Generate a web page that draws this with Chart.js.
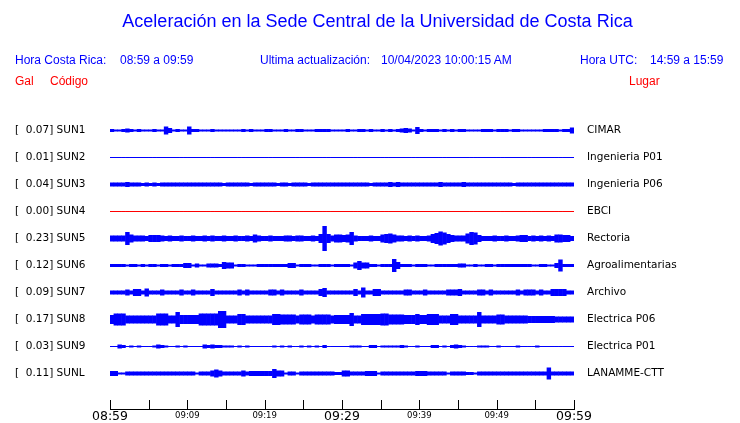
<!DOCTYPE html>
<html>
<head>
<meta charset="utf-8">
<script src="https://cdn.jsdelivr.net/npm/chart.js@4.4.0/dist/chart.umd.min.js"></script>
<style>
    body { margin: 0; background: #fff; overflow: hidden; }
    #wrap { position: relative; width: 740px; height: 423px; }
    #seismoChart { display: block; }
    .info { position: absolute; font-family: "Liberation Sans", Arial, sans-serif; font-size: 12px; line-height: 14px; white-space: pre; }
    .blue { color: #0000ff; }
    .red { color: #ff0000; }
</style>
</head>
<body>
<div id="wrap">
    <canvas id="seismoChart" width="740" height="423"></canvas>
    <div class="info blue" style="left:15px;top:53px">Hora Costa Rica:</div>
    <div class="info blue" style="left:120px;top:53px">08:59 a 09:59</div>
    <div class="info blue" style="left:260px;top:53px">Ultima actualización:</div>
    <div class="info blue" style="left:381px;top:53px">10/04/2023 10:00:15 AM</div>
    <div class="info blue" style="left:580px;top:53px">Hora UTC:</div>
    <div class="info blue" style="left:650px;top:53px">14:59 a 15:59</div>
    <div class="info red" style="left:15px;top:74px">Gal</div>
    <div class="info red" style="left:50px;top:74px">Código</div>
    <div class="info red" style="left:629px;top:74px">Lugar</div>
</div>
<script>
// --- datos de las estaciones
var stations = ['SUN1', 'SUN2', 'SUN3', 'SUN4', 'SUN5', 'SUN6', 'SUN7', 'SUN8', 'SUN9', 'SUNL'];
var places = ['CIMAR', 'Ingenieria P01', 'Ingenieria P06', 'EBCI', 'Rectoria', 'Agroalimentarias',
    'Archivo', 'Electrica P06', 'Electrica P01', 'LANAMME-CTT'];
var gal = [0.07, 0.01, 0.04, 0.00, 0.23, 0.12, 0.09, 0.17, 0.03, 0.11];
var timeLabels = ['08:59', '09:09', '09:19', '09:29', '09:39', '09:49', '09:59'];

// amplitud pico a pico por intervalo de 30 s (120 intervalos, 08:59 - 09:59)
var sun1 = [
    3,2,2,3,4,3,2,3,2,2,  2,3,2,2,8,5,2,3,2,2,
    8,3,3,2,2,2,3,2,2,2,  2,2,2,2,3,2,3,2,2,2,
    3,3,2,2,2,3,2,2,3,3,  2,2,2,3,3,3,3,2,2,2,
    2,3,2,2,3,3,2,3,2,2,  3,2,3,2,3,4,5,4,2,7,
    3,2,3,3,3,2,3,2,3,2,  3,3,2,2,2,2,3,3,3,2,
    3,3,3,2,3,3,2,2,2,2,  2,2,3,3,3,3,2,3,3,6];
var sun2 = [
    1,1,1,1,1,1,1,1,1,1,  1,1,1,1,1,1,1,1,1,1,
    1,1,1,1,1,1,1,1,1,1,  1,1,1,1,1,1,1,1,1,1,
    1,1,1,1,1,1,1,1,1,1,  1,1,1,1,1,1,1,1,1,1,
    1,1,1,1,1,1,1,1,1,1,  1,1,1,1,1,1,1,1,1,1,
    1,1,1,1,1,1,1,1,1,1,  1,1,1,1,1,1,1,1,1,1,
    1,1,1,1,1,1,1,1,1,1,  1,1,1,1,1,1,1,1,1,1];
var sun3 = [
    4,4,4,4,5,4,4,4,3,4,  3,4,3,4,4,4,4,4,4,4,
    4,4,4,4,4,4,4,4,4,3,  4,4,4,4,4,4,3,4,4,4,
    4,4,4,3,4,4,3,4,4,4,  4,3,4,4,4,4,4,4,4,4,
    4,4,4,4,4,4,4,3,4,4,  4,4,5,4,5,4,4,4,4,4,
    4,4,4,4,4,5,4,4,4,4,  4,5,4,4,4,4,4,4,4,4,
    4,4,4,4,3,4,4,4,4,4,  4,4,4,4,4,4,4,4,4,4];
var sun4 = [
    1,1,1,1,1,1,1,1,1,1,  1,1,1,1,1,1,1,1,1,1,
    1,1,1,1,1,1,1,1,1,1,  1,1,1,1,1,1,1,1,1,1,
    1,1,1,1,1,1,1,1,1,1,  1,1,1,1,1,1,1,1,1,1,
    1,1,1,1,1,1,1,1,1,1,  1,1,1,1,1,1,1,1,1,1,
    1,1,1,1,1,1,1,1,1,1,  1,1,1,1,1,1,1,1,1,1,
    1,1,1,1,1,1,1,1,1,1,  1,1,1,1,1,1,1,1,1,1];
var sun5 = [
    6,6,6,6,13,8,6,6,6,5,  7,7,7,6,5,6,5,5,6,5,
    5,6,5,5,6,5,6,5,5,6,  5,5,6,5,5,6,5,8,6,5,
    5,6,5,5,5,6,6,5,6,6,  5,5,6,5,9,25,9,6,8,8,
    7,8,13,6,5,5,5,6,5,5,  8,9,10,8,6,6,5,6,5,6,
    5,5,6,9,11,14,12,9,7,6,  6,6,10,13,12,7,5,5,5,6,
    5,5,6,5,5,6,7,7,5,6,  5,6,5,6,5,8,8,7,7,5];
var sun6 = [
    3,3,3,3,2,3,3,2,3,2,  3,3,2,3,3,2,3,3,3,5,
    5,2,4,2,2,4,4,4,3,7,  6,6,2,3,3,2,2,2,3,3,
    3,3,3,3,3,3,5,5,2,3,  3,3,2,2,3,3,3,2,3,3,
    3,3,2,6,9,6,6,3,3,2,  3,3,3,13,7,3,3,3,2,3,
    3,3,2,2,3,3,3,3,3,3,  4,4,2,2,3,2,2,3,3,2,
    3,3,3,3,3,3,3,3,3,2,  2,3,3,2,2,5,12,3,3,3];
var sun7 = [
    4,4,4,4,6,4,7,7,4,8,  4,4,4,6,4,4,4,4,6,4,
    4,6,4,4,4,4,7,4,4,4,  4,4,4,6,4,6,4,4,4,4,
    4,6,6,4,6,4,4,4,4,6,  4,4,4,4,7,9,4,4,4,4,
    4,4,4,7,4,10,4,4,7,7,  4,4,4,4,4,4,6,6,4,4,
    4,6,4,4,4,4,4,6,6,6,  7,4,4,4,4,6,6,4,6,4,
    4,4,4,4,4,6,4,6,6,6,  4,6,4,4,7,7,7,7,4,4];
var sun8 = [
    9,12,12,12,8,8,8,8,8,8,  8,8,12,12,12,8,8,15,9,9,
    9,9,9,12,12,12,12,12,17,17,  8,8,8,11,11,8,8,8,8,8,
    8,8,11,11,10,10,10,10,8,10,  10,10,8,10,10,10,10,8,9,9,
    9,9,13,8,8,11,11,11,11,11,  12,12,10,10,10,10,9,9,9,11,
    9,9,11,11,11,8,8,8,11,11,  8,8,8,8,8,15,8,8,8,8,
    10,10,8,8,8,8,8,8,7,7,  7,7,7,7,7,6,6,6,6,6];
var sun9 = [
    1,1,4,3,1,2,1,2,1,1,  1,2,4,3,2,1,1,2,1,2,
    1,1,1,1,4,3,4,3,3,2,  2,2,1,2,1,2,1,1,1,1,
    1,1,2,1,2,1,2,1,1,2,  1,2,1,2,1,3,1,1,1,1,
    1,1,2,2,2,1,1,3,3,1,  2,2,2,2,2,3,2,1,1,2,
    1,1,1,3,3,1,2,1,3,4,  3,2,1,1,1,2,2,2,1,1,
    2,1,1,1,1,2,1,1,1,1,  2,1,1,1,1,1,1,1,1,1];
var sunl = [
    5,5,2,2,4,4,4,4,4,4,  4,4,4,4,4,4,4,4,4,4,
    4,4,2,4,4,4,6,8,6,4,  4,4,4,4,6,4,5,5,5,5,
    5,5,9,6,6,2,4,4,2,4,  4,4,4,4,4,4,4,4,3,3,
    6,6,4,4,4,4,5,5,5,2,  4,4,4,4,4,4,4,4,4,5,
    5,5,4,4,4,4,4,2,4,4,  4,4,3,3,2,4,4,4,4,4,
    4,4,4,4,4,4,4,4,4,4,  4,4,4,12,4,4,4,4,4,4];

var traces = [sun1, sun2, sun3, sun4, sun5, sun6, sun7, sun8, sun9, sunl];

// --- configuración
var rowGap = 27;        // separación entre trazas (unidades del eje y)
var binMinutes = 0.5;

var datasets = traces.map(function (amps, k) {
    var off = k * rowGap;
    return {
        label: stations[k],
        data: amps.map(function (a, i) {
            return { x: i * binMinutes + binMinutes / 2, y: [off - a / 2, off + a / 2] };
        }),
        backgroundColor: stations[k] === 'SUN4' ? '#ff0000' : '#0000ff',
        borderWidth: 0,
        grouped: false,
        barPercentage: 1.15,
        categoryPercentage: 1
    };
});

var tickMarks = {
    id: 'tickMarks',
    afterDraw: function (chart) {
        var sx = chart.scales.x;
        var ctx = chart.ctx;
        ctx.save();
        ctx.strokeStyle = '#000';
        ctx.lineWidth = 1;
        ctx.beginPath();
        sx.ticks.forEach(function (t) {
            var px = Math.round(sx.getPixelForValue(t.value)) + 0.5;
            ctx.moveTo(px, sx.top - 9);
            ctx.lineTo(px, sx.top);
        });
        ctx.stroke();
        ctx.restore();
    }
};

function rowTicks(scale) {
    scale.ticks = stations.map(function (s, i) { return { value: i * rowGap }; });
}

// los ejes de estaciones no deben empujar el área del gráfico
function fixRowAxis(width) {
    return function (s) {
        s.width = width;
        s.paddingTop = 0;
        s.paddingBottom = 0;
    };
}

var labelFont = { family: 'DejaVu Sans', size: 10.5 };

new Chart(document.getElementById('seismoChart'), {
    type: 'bar',
    data: { datasets: datasets },
    plugins: [tickMarks],
    options: {
        responsive: false,
        animation: false,
        devicePixelRatio: 1,
        layout: { autoPadding: false, padding: { left: 15, right: 0, top: 0, bottom: 0 } },
        plugins: {
            legend: { display: false },
            tooltip: { enabled: false },
            title: {
                display: true,
                text: 'Aceleración en la Sede Central de la Universidad de Costa Rica',
                color: '#0000ff',
                font: { family: 'Liberation Sans', size: 18, weight: 'normal', lineHeight: '23px' },
                padding: { top: 11, bottom: 81 }
            }
        },
        scales: {
            x: {
                type: 'linear',
                min: 0,
                max: 60,
                offset: false,
                grid: { display: false, drawTicks: false },
                border: { display: true, color: '#000', width: 1 },
                ticks: {
                    stepSize: 5,
                    autoSkip: false,
                    maxRotation: 0,
                    padding: 0,
                    color: '#000',
                    font: function (c) {
                        var big = c.tick && c.tick.value % 30 === 0;
                        return { family: 'DejaVu Sans', size: big ? 12.5 : 8.5, lineHeight: big ? 1.2 : 1.5 };
                    },
                    callback: function (v) {
                        return v % 10 === 0 ? timeLabels[v / 10] : '';
                    }
                },
                afterFit: function (s) { s.height = 14; }
            },
            y: {
                type: 'linear',
                position: 'left',
                min: -15.5,
                max: 278.5,
                reverse: true,
                grid: { display: false, drawTicks: false },
                border: { display: false },
                afterBuildTicks: rowTicks,
                ticks: {
                    crossAlign: 'far',
                    color: '#000',
                    font: labelFont,
                    callback: function (v, i) { return '[  ' + gal[i].toFixed(2) + '] ' + stations[i]; }
                },
                afterFit: fixRowAxis(95)
            },
            y2: {
                type: 'linear',
                position: 'right',
                min: -15.5,
                max: 278.5,
                reverse: true,
                grid: { display: false, drawTicks: false },
                border: { display: false },
                afterBuildTicks: rowTicks,
                ticks: {
                    padding: 13,
                    color: '#000',
                    font: labelFont,
                    callback: function (v, i) { return places[i]; }
                },
                afterFit: fixRowAxis(166)
            }
        }
    }
});
</script>
</body>
</html>
